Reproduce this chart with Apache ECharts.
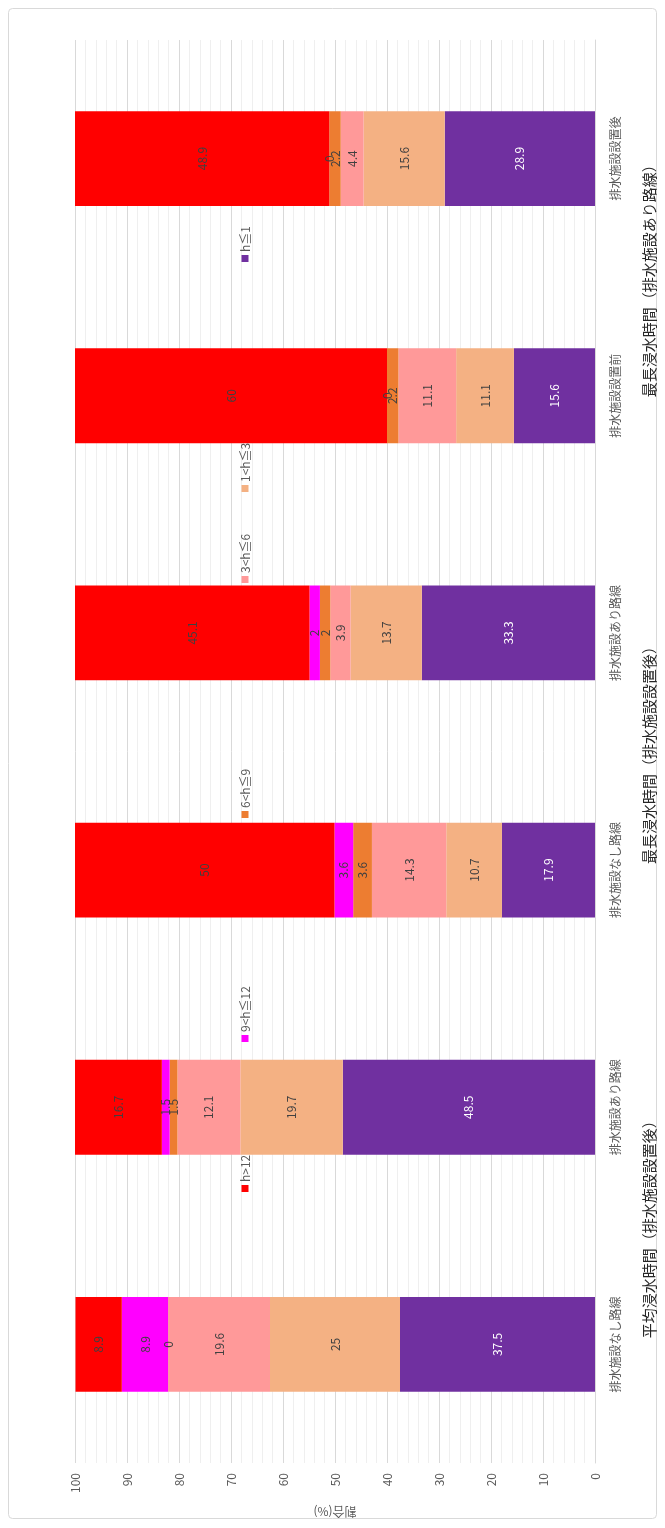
<!DOCTYPE html>
<html>
<head>
<meta charset="utf-8">
<script src="https://cdn.jsdelivr.net/npm/echarts@6/dist/echarts.min.js"></script>
<style>
  html, body { margin: 0; padding: 0; background: #ffffff; }
  #chart { width: 665px; height: 1528px; }
</style>
</head>
<body>
<div id="chart"></div>
<script>
// Categories (bottom to top) and their group headings
const categories = ['排水施設なし路線', '排水施設あり路線', '排水施設なし路線', '排水施設あり路線', '排水施設設置前', '排水施設設置後'];
const groups = ['平均浸水時間（排水施設設置後）', '最長浸水時間（排水施設設置後）', '最長浸水時間（排水施設あり路線）'];

// Share (%) of each flooding-duration class
const classNames = ['h>12', '9<h≦12', '6<h≦9', '3<h≦6', '1<h≦3', 'h≦1'];
const hOver12 = [8.9, 16.7, 50, 45.1, 60, 48.9];
const h9to12 = [8.9, 1.5, 3.6, 2, 0, 0];
const h6to9 = [0, 1.5, 3.6, 2, 2.2, 2.2];
const h3to6 = [19.6, 12.1, 14.3, 3.9, 11.1, 4.4];
const h1to3 = [25, 19.7, 10.7, 13.7, 11.1, 15.6];
const hUnder1 = [37.5, 48.5, 17.9, 33.3, 15.6, 28.9];

const valueTicks = [0, 100, 10];
const axisTitle = '割合(%)';

const colors = ['#FF0000', '#FF00FF', '#ED7D31', '#FF9999', '#F4B183', '#7030A0'];
const seriesValues = [hOver12, h9to12, h6to9, h3to6, h1to3, hUnder1];

const FONT = '"Noto Sans CJK JP", "Noto Sans", sans-serif';

const chart = echarts.init(document.getElementById('chart'), null, { renderer: 'canvas' });

// Stack from 0 upwards: shortest durations sit on the baseline
const order = [5, 4, 3, 2, 1, 0];
const series = order.map(i => ({
  name: classNames[i],
  type: 'bar',
  stack: 'total',
  data: seriesValues[i],
  barCategoryGap: '60%',
  itemStyle: { color: colors[i] },
  label: {
    show: true,
    position: 'inside',
    rotate: 90,
    fontFamily: FONT,
    fontSize: 12,
    color: i === 5 ? '#ffffff' : '#404040'
  }
}));

// Legend: a rotated column of swatches set in the gaps between bars
const legendY = [1192, 1042, 818, 583, 492, 262];
const legendItems = classNames.map((name, i) => ({
  type: 'group',
  x: 245,
  y: legendY[i],
  z: 100,
  rotation: Math.PI / 2,
  children: [
    { type: 'rect', z: 100, shape: { x: 0, y: -3.5, width: 7, height: 7 }, style: { fill: colors[i] } },
    { type: 'text', z: 100, x: 10, y: 0, style: { text: name, font: '12px ' + FONT, fill: '#595959', textAlign: 'left', textVerticalAlign: 'middle' } }
  ]
}));

chart.setOption({
  animation: false,
  backgroundColor: '#ffffff',
  grid: { left: 75, right: 70, top: 40, bottom: 65, containLabel: false },
  xAxis: {
    type: 'value',
    min: valueTicks[0],
    max: valueTicks[1],
    interval: valueTicks[2],
    inverse: true,
    position: 'bottom',
    name: axisTitle,
    nameLocation: 'middle',
    nameRotate: 180,
    nameGap: 43,
    nameTextStyle: { fontFamily: FONT, fontSize: 12, color: '#595959' },
    axisLine: { show: false },
    axisTick: { show: false },
    axisLabel: { rotate: 90, margin: 10, fontFamily: FONT, fontSize: 12, color: '#595959' },
    splitLine: { show: true, lineStyle: { color: '#d9d9d9', width: 1 } },
    minorTick: { show: false, splitNumber: 5 },
    minorSplitLine: { show: true, lineStyle: { color: '#efefef', width: 1 } }
  },
  yAxis: [
    {
      type: 'category',
      data: categories,
      position: 'right',
      axisLine: { show: true, lineStyle: { color: '#d9d9d9' } },
      axisTick: { show: false },
      axisLabel: { rotate: 90, margin: 20, fontFamily: FONT, fontSize: 12, color: '#595959', align: 'center', verticalAlign: 'middle' }
    },
    {
      type: 'category',
      data: groups,
      position: 'right',
      axisLine: { show: false },
      axisTick: { show: false },
      axisLabel: { rotate: 90, margin: 54, fontFamily: FONT, fontSize: 15, color: '#262626', align: 'center', verticalAlign: 'middle' }
    }
  ],
  series: series,
  graphic: [
    {
      type: 'rect',
      silent: true,
      z: -10,
      shape: { x: 8.5, y: 8.5, width: 648, height: 1510, r: 4 },
      style: { fill: 'none', stroke: '#d9d9d9', lineWidth: 1 }
    },
    ...legendItems
  ]
});
</script>
</body>
</html>
